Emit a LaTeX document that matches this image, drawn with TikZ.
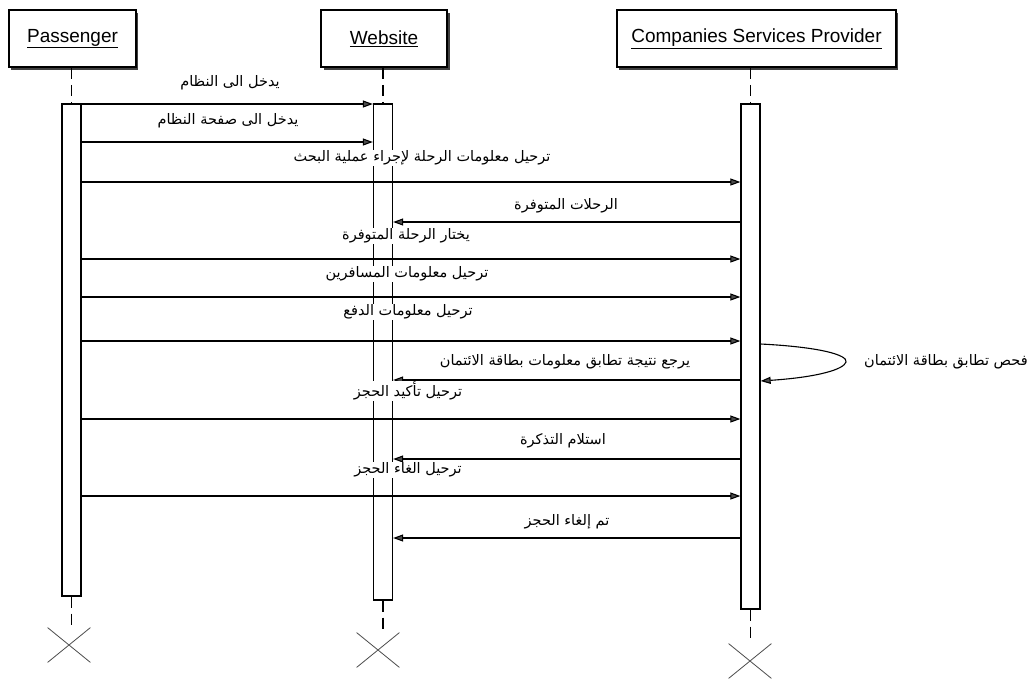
\documentclass[tikz,border=0pt]{standalone}
\usepackage{fontspec}
\setmainfont{Liberation Sans}
\newfontfamily\arabicfont[Script=Arabic]{DejaVu Sans}
\TeXXeTstate=1
\usetikzlibrary{arrows.meta,shapes.misc}
\tikzset{
  objbox/.style={draw, line width=1.5pt, fill=white, minimum height=57pt, inner sep=0pt,
    font=\fontsize{19}{21}\selectfont},
  shadowbox/.style={fill=black!75, draw=none},
  actbar/.style={draw, line width=1.3pt, fill=white, minimum width=19pt, inner sep=0pt},
  lifeline/.style={line width=1.3pt, dash pattern=on 11pt off 6pt},
  msg/.style={line width=1.1pt, -{Triangle[length=10pt,width=7pt,fill=black!70]}},
  lbl/.style={fill=white, inner sep=1pt, font=\arabicfont\fontsize{14.5}{16}\selectfont},
  endx/.style={draw=black!70, cross out, line width=0.8pt, minimum width=42pt, minimum height=34pt}
}
\begin{document}
\begin{tikzpicture}[x=1pt,y=-1pt]
\useasboundingbox[fill=white] (0,0) rectangle (1029,678);

% object boxes with shadow
\fill[shadowbox] (11,13) rectangle (138,70);
\fill[shadowbox] (324,13) rectangle (450,70);
\fill[shadowbox] (619,13) rectangle (898,70);
\node[objbox, minimum width=127pt] (pas) at (72.5,38.5) {\underline{Passenger}};
\node[objbox, minimum width=126pt] (web) at (384,38.5) {\underline{Website}};
\node[objbox, minimum width=279pt] (csp) at (756.5,38.5) {\underline{Companies Services Provider}};

% activation bars
\node[actbar, minimum height=492pt] (pbar) at (71.5,350) {};
\node[actbar, minimum height=496pt] (wbar) at (383,352) {};
\node[actbar, minimum height=505pt] (cbar) at (750.5,356.5) {};

% destruction marks
\node[endx] (px) at (69,645) {};
\node[endx] (wx) at (378,650) {};
\node[endx] (cx) at (750,661) {};

% lifelines
\draw[lifeline] (pas.south -| pbar) -- (pbar.north);
\draw[lifeline] (web.south -| wbar) -- (wbar.north);
\draw[lifeline] (csp.south -| cbar) -- (cbar.north);
\draw[lifeline] (pbar.south) -- (pbar.south |- px.north);
\draw[lifeline] (wbar.south) -- (wbar.south |- wx.north);
\draw[lifeline] (cbar.south) -- (cbar.south |- cx.north);

% messages
\draw[msg] (pbar.east |- 0,104) -- (wbar.west |- 0,104);
\draw[msg] (pbar.east |- 0,142) -- (wbar.west |- 0,142);
\draw[msg] (pbar.east |- 0,182) -- (cbar.west |- 0,182);
\draw[msg] (cbar.west |- 0,222) -- (wbar.east |- 0,222);
\draw[msg] (pbar.east |- 0,259) -- (cbar.west |- 0,259);
\draw[msg] (pbar.east |- 0,297) -- (cbar.west |- 0,297);
\draw[msg] (pbar.east |- 0,341) -- (cbar.west |- 0,341);
\draw[msg] (cbar.west |- 0,380) -- (wbar.east |- 0,380);
\draw[msg] (cbar.east |- 0,344) .. controls (820,347) and (848,355) .. (846,362)
           .. controls (844,369) and (820,377) .. (cbar.east |- 0,381);
\draw[msg] (pbar.east |- 0,419) -- (cbar.west |- 0,419);
\draw[msg] (cbar.west |- 0,459) -- (wbar.east |- 0,459);
\draw[msg] (pbar.east |- 0,496) -- (cbar.west |- 0,496);
\draw[msg] (cbar.west |- 0,538) -- (wbar.east |- 0,538);

% labels
\node[lbl] (l1) at (230,83) {\beginR يدخل الى النظام\endR};
\node[lbl] (l2) at (228,121) {\beginR يدخل الى صفحة النظام\endR};
\node[lbl] (l3) at (422,158) {\beginR ترحيل معلومات الرحلة لإجراء عملية البحث\endR};
\node[lbl] (l4) at (566,206) {\beginR الرحلات المتوفرة\endR};
\node[lbl] (l5) at (406,236) {\beginR يختار الرحلة المتوفرة\endR};
\node[lbl] (l6) at (407,274) {\beginR ترحيل معلومات المسافرين\endR};
\node[lbl] (l7) at (408,312) {\beginR ترحيل معلومات الدفع\endR};
\node[lbl] (l8) at (565,362) {\beginR يرجع نتيجة تطابق معلومات بطاقة الائتمان\endR};
\node[lbl, anchor=east] (l9) at (1029,362) {\beginR فحص تطابق بطاقة الائتمان\endR};
\node[lbl] (l10) at (408,391) {\beginR ترحيل تأكيد الحجز\endR};
\node[lbl] (l11) at (563,441) {\beginR استلام التذكرة\endR};
\node[lbl] (l12) at (408,470) {\beginR ترحيل الغاء الحجز\endR};
\node[lbl] (l13) at (567,522) {\beginR تم إلغاء الحجز\endR};
\end{tikzpicture}
\end{document}
